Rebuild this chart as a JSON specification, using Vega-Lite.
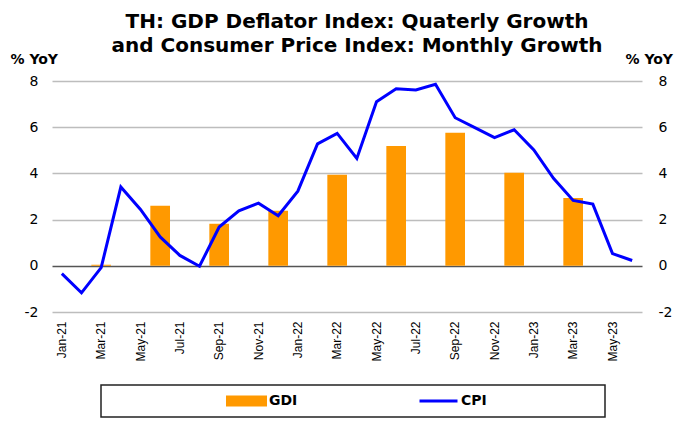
{
  "$schema": "https://vega.github.io/schema/vega-lite/v6.json",
  "width": 590,
  "height": 231,
  "autosize": {"type": "none"},
  "padding": {"left": 52, "top": 81, "right": 32, "bottom": 116},
  "background": "white",
  "title": {
    "text": ["TH: GDP Deflator Index: Quaterly Growth", "and Consumer Price Index: Monthly Growth"],
    "font": "DejaVu Sans",
    "fontSize": 20,
    "fontWeight": "bold",
    "color": "black",
    "lineHeight": 24,
    "frame": "group",
    "anchor": "middle",
    "dx": 10,
    "dy": 4,
    "offset": 0
  },
  "config": {
    "view": {"stroke": null},
    "font": "DejaVu Sans"
  },
  "data": {
    "values": [
      {"month": "Jan-21", "cpi": -0.34, "gdi": null},
      {"month": "Feb-21", "cpi": -1.17, "gdi": null},
      {"month": "Mar-21", "cpi": -0.08, "gdi": 0.05},
      {"month": "Apr-21", "cpi": 3.41, "gdi": null},
      {"month": "May-21", "cpi": 2.44, "gdi": null},
      {"month": "Jun-21", "cpi": 1.25, "gdi": 2.6},
      {"month": "Jul-21", "cpi": 0.45, "gdi": null},
      {"month": "Aug-21", "cpi": -0.02, "gdi": null},
      {"month": "Sep-21", "cpi": 1.68, "gdi": 1.82},
      {"month": "Oct-21", "cpi": 2.38, "gdi": null},
      {"month": "Nov-21", "cpi": 2.71, "gdi": null},
      {"month": "Dec-21", "cpi": 2.17, "gdi": 2.38},
      {"month": "Jan-22", "cpi": 3.23, "gdi": null},
      {"month": "Feb-22", "cpi": 5.28, "gdi": null},
      {"month": "Mar-22", "cpi": 5.73, "gdi": 3.94},
      {"month": "Apr-22", "cpi": 4.65, "gdi": null},
      {"month": "May-22", "cpi": 7.10, "gdi": null},
      {"month": "Jun-22", "cpi": 7.66, "gdi": 5.19},
      {"month": "Jul-22", "cpi": 7.61, "gdi": null},
      {"month": "Aug-22", "cpi": 7.86, "gdi": null},
      {"month": "Sep-22", "cpi": 6.41, "gdi": 5.76},
      {"month": "Oct-22", "cpi": 5.98, "gdi": null},
      {"month": "Nov-22", "cpi": 5.55, "gdi": null},
      {"month": "Dec-22", "cpi": 5.89, "gdi": 4.03},
      {"month": "Jan-23", "cpi": 5.02, "gdi": null},
      {"month": "Feb-23", "cpi": 3.79, "gdi": null},
      {"month": "Mar-23", "cpi": 2.83, "gdi": 2.94},
      {"month": "Apr-23", "cpi": 2.67, "gdi": null},
      {"month": "May-23", "cpi": 0.53, "gdi": null},
      {"month": "Jun-23", "cpi": 0.23, "gdi": null}
    ]
  },
  "encoding": {
    "x": {
      "field": "month",
      "type": "ordinal",
      "sort": null,
      "scale": {
        "domain": ["Jan-21", "Feb-21", "Mar-21", "Apr-21", "May-21", "Jun-21", "Jul-21", "Aug-21", "Sep-21", "Oct-21", "Nov-21", "Dec-21", "Jan-22", "Feb-22", "Mar-22", "Apr-22", "May-22", "Jun-22", "Jul-22", "Aug-22", "Sep-22", "Oct-22", "Nov-22", "Dec-22", "Jan-23", "Feb-23", "Mar-23", "Apr-23", "May-23", "Jun-23"],
        "paddingInner": 0,
        "paddingOuter": 0
      },
      "axis": {
        "title": null,
        "values": ["Jan-21", "Mar-21", "May-21", "Jul-21", "Sep-21", "Nov-21", "Jan-22", "Mar-22", "May-22", "Jul-22", "Sep-22", "Nov-22", "Jan-23", "Mar-23", "May-23"],
        "labelAngle": -90,
        "labelFont": "Liberation Sans",
        "labelFontSize": 12,
        "labelColor": "black",
        "labelPadding": 9,
        "ticks": false,
        "domain": false,
        "grid": false
      }
    }
  },
  "layer": [
    {
      "mark": {"type": "bar", "color": "#ff9900"},
      "encoding": {
        "y": {
          "field": "gdi",
          "type": "quantitative",
          "scale": {"domain": [-2, 8], "nice": false, "zero": false},
          "axis": {
            "orient": "left",
            "values": [-2, 0, 2, 4, 6, 8],
            "labelExpr": "replace(datum.label, '\u2212', '-')",
            "title": "% YoY",
            "titleAngle": 0,
            "titleAlign": "left",
            "titleBaseline": "alphabetic",
            "titleX": -42,
            "titleY": -18,
            "titleFont": "DejaVu Sans",
            "titleFontSize": 14,
            "titleFontWeight": "bold",
            "titleColor": "black",
            "labelFont": "DejaVu Sans",
            "labelFontSize": 14,
            "labelColor": "black",
            "labelPadding": 14,
            "ticks": false,
            "domain": false,
            "grid": true,
            "gridColor": {"condition": {"test": "datum.value === 0", "value": "#555555"}, "value": "#bdbdbd"},
            "gridWidth": 1.5
          }
        },
        "color": {
          "datum": "GDI",
          "type": "nominal",
          "scale": {"domain": ["GDI", "CPI"], "range": ["#ff9900", "#0000ff"]},
          "legend": {
            "orient": "none",
            "legendX": 49,
            "legendY": 304,
            "direction": "horizontal",
            "title": "MMMMMMMMM",
            "titleColor": "white",
            "titleFont": "DejaVu Sans",
            "titleOrient": "left",
            "titleFontSize": 13,
            "titlePadding": 0,
            "padding": 8,
            "strokeColor": "#222222",
            "columnPadding": 120,
            "symbolSize": 1444,
            "clipHeight": 16,
            "labelOffset": 2,
            "labelLimit": 400,
            "labelFont": "DejaVu Sans",
            "labelFontSize": 14,
            "labelFontWeight": "bold",
            "labelColor": "black",
            "labelExpr": "datum.label === 'CPI' ? 'CPI\u2800\u2800\u2800\u2800\u2800\u2800\u2800\u2800\u2800\u2800' : datum.label",
            "encode": {
              "symbols": {
                "update": {
                  "shape": {"signal": "datum.value === 'GDI' ? 'M-1,-0.21H1V0.21H-1Z' : 'M-1,0H1'"},
                  "fill": {"signal": "datum.value === 'GDI' ? '#ff9900' : 'transparent'"},
                  "stroke": {"signal": "datum.value === 'GDI' ? 'transparent' : '#0000ff'"},
                  "strokeWidth": {"value": 3},
                  "opacity": {"value": 1}
                }
              },
              "legend": {"update": {"strokeWidth": {"value": 1.5}}}
            }
          }
        }
      }
    },
    {
      "mark": {"type": "line", "color": "#0000ff", "strokeWidth": 3},
      "encoding": {
        "y": {
          "field": "cpi",
          "type": "quantitative",
          "scale": {"domain": [-2, 8], "nice": false, "zero": false},
          "axis": {
            "orient": "right",
            "values": [-2, 0, 2, 4, 6, 8],
            "labelExpr": "replace(datum.label, '\u2212', '-')",
            "title": "% YoY",
            "titleAngle": 0,
            "titleAlign": "left",
            "titleBaseline": "alphabetic",
            "titleX": -17,
            "titleY": -18,
            "titleFont": "DejaVu Sans",
            "titleFontSize": 14,
            "titleFontWeight": "bold",
            "titleColor": "black",
            "labelFont": "DejaVu Sans",
            "labelFontSize": 14,
            "labelColor": "black",
            "labelPadding": 16,
            "ticks": false,
            "domain": false,
            "grid": false
          }
        },
        "color": {"datum": "CPI", "type": "nominal"}
      }
    }
  ],
  "resolve": {"scale": {"y": "independent"}}
}
